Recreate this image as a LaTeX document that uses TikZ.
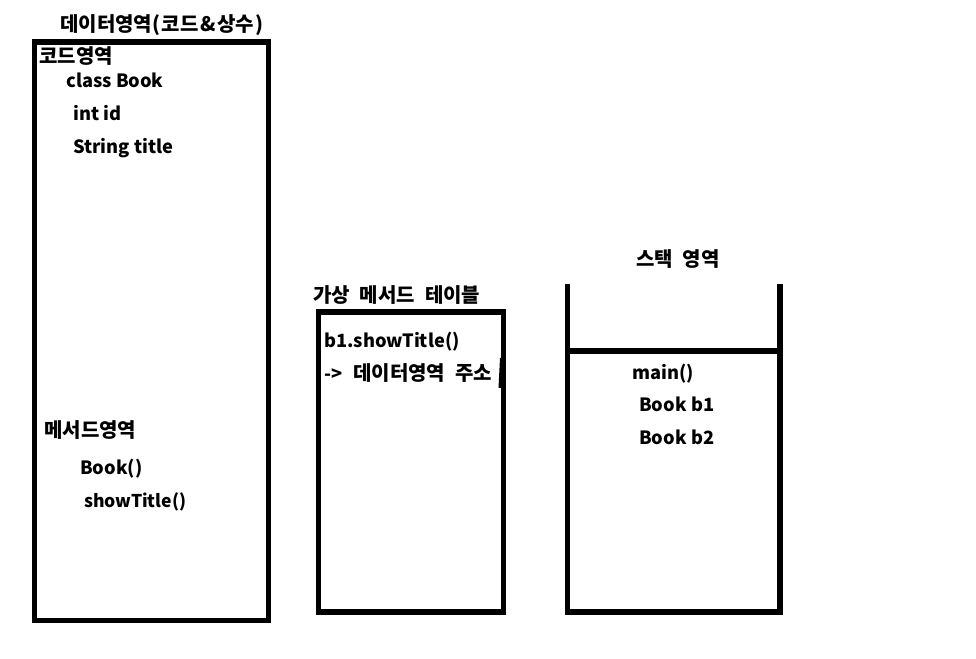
\documentclass[tikz,border=0pt]{standalone}
\usepackage{fontspec}
\setmainfont{Noto Sans CJK KR}
\newcommand\KR[1]{{\fontsize{15pt}{15pt}\selectfont #1}}
\begin{document}
\begin{tikzpicture}[x=0.75pt,y=-0.75pt,
  frame/.style={line width=3.9pt,line cap=rect},
  lbl/.style={anchor=base west,inner sep=0pt,font=\fontsize{13.7pt}{15pt}\selectfont\bfseries}]
\useasboundingbox (0,0) rectangle (976,659);
% left box
\coordinate (L1) at (34.5,42);
\coordinate (L2) at (268.5,620.5);
\draw[frame] (L1) rectangle (L2);
% middle box
\coordinate (M1) at (318.5,312);
\coordinate (M2) at (503.5,612);
\draw[frame] (M1) rectangle (M2);
\coordinate (J1) at (502,358);
\coordinate (J2) at (500.5,388);
\draw[line width=3pt] (J1) -- (J2);
% stack
\coordinate (S1) at (567.5,284);
\coordinate (S2) at (567.5,612);
\coordinate (S3) at (780,612);
\coordinate (S4) at (780,284);
\draw[frame,line cap=butt] (S1) -- (S2) -- (S3) -- (S4);
\coordinate (H1) at (567.5,351);
\coordinate (H2) at (783,351);
\draw[frame,line cap=butt] (H1) -- (H2);
% texts
\node[lbl] (t1) at (60,32) {\KR{데이터영역(\hspace{1.2pt}코드\hspace{1.2pt}\&\hspace{1.2pt}상수\hspace{1.2pt})}};
\node[lbl] (t2) at (39,64) {\KR{코드영역}};
\node[lbl] (t3) at (66,88) {class Book};
\node[lbl] (t4) at (73,121) {int id};
\node[lbl] (t5) at (73,154) {String title};
\node[lbl] (t6) at (44,438) {\KR{메서드영역}};
\node[lbl] (t7) at (80,475) {Book()};
\node[lbl] (t8) at (84,508) {\fontsize{13.2pt}{15pt}\selectfont showTitle()};
\node[lbl] (t9) at (313,303) {\KR{가상\hspace{4pt} 메서드\hspace{4pt} 테이블}};
\node[lbl] (t10) at (324,348) {b1.showTitle()};
\node[lbl] (t11) at (324,381) {->\hspace{5pt} \KR{데이터영역\hspace{4pt} 주소}};
\node[lbl] (t12) at (636,267) {\KR{스택\hspace{4pt} 영역}};
\node[lbl] (t13) at (632,380) {main()};
\node[lbl] (t14) at (639,412) {Book b1};
\node[lbl] (t15) at (639,445) {Book b2};
\end{tikzpicture}
\end{document}
